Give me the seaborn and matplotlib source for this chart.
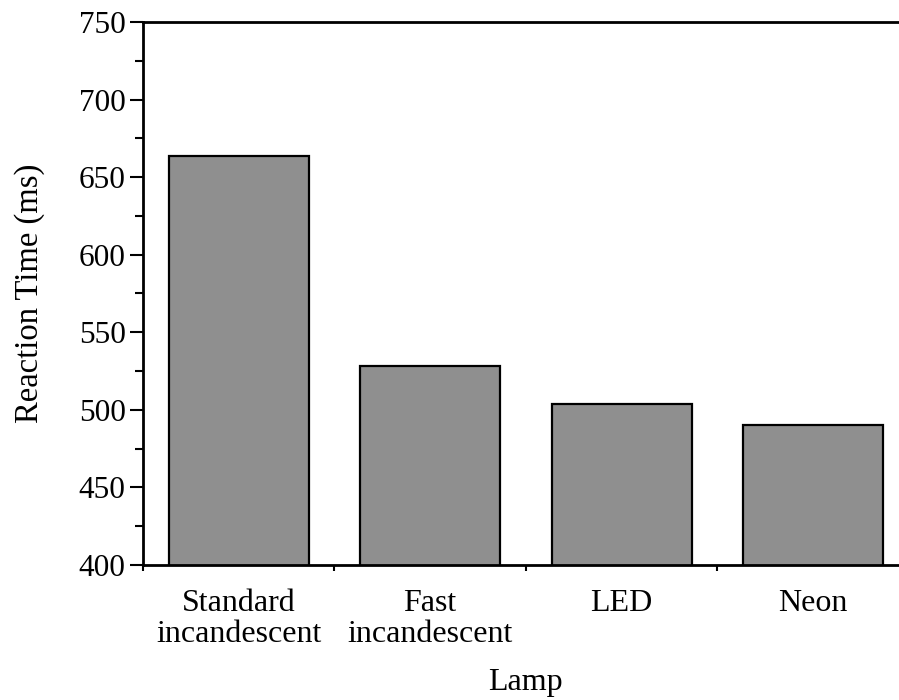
import pandas as pd
import seaborn as sns
import matplotlib.pyplot as plt
from matplotlib.ticker import MultipleLocator, FixedLocator

# data
lamps = ['Standard\nincandescent', 'Fast\nincandescent', 'LED', 'Neon']
reaction_ms = [663.5, 528, 504, 490]

df = pd.DataFrame({'Lamp': lamps, 'Reaction Time (ms)': reaction_ms})

sns.set_theme(style="ticks")
plt.rcParams['font.family'] = ['Liberation Serif', 'DejaVu Serif']

fig = plt.figure(figsize=(8.99, 7.0), dpi=100)
ax = fig.add_axes([0.159, 0.193, 0.852, 0.7756])

sns.barplot(
    data=df,
    x='Lamp',
    y='Reaction Time (ms)',
    order=lamps,
    color='#8f8f8f',
    saturation=1,
    width=0.73,
    edgecolor='black',
    linewidth=1.6,
    ax=ax,
)

ax.set_ylim(400, 750)
ax.set_xlim(-0.5, 3.5)
ax.yaxis.set_major_locator(MultipleLocator(50))
ax.yaxis.set_minor_locator(MultipleLocator(25))
# small x ticks sit between the categories
ax.xaxis.set_minor_locator(FixedLocator([-0.5, 0.5, 1.5, 2.5]))

ax.tick_params(axis='y', which='major', direction='out', length=9.5, width=1.5,
               labelsize=22.5, pad=3, color='black', labelcolor='black')
ax.tick_params(axis='y', which='minor', direction='out', length=5.5, width=1.5,
               color='black', left=True)
ax.tick_params(axis='x', which='major', length=0, labelsize=23, pad=17,
               labelcolor='black')
ax.tick_params(axis='x', which='minor', direction='out', length=4, width=1.5,
               color='black', bottom=True)

for side in ['left', 'bottom', 'top', 'right']:
    ax.spines[side].set_linewidth(2)
    ax.spines[side].set_color('black')

ax.set_ylabel('Reaction Time (ms)', fontsize=23.5, labelpad=24, color='black')
ax.set_xlabel('Lamp', fontsize=23, labelpad=14, color='black')
for lab in ax.get_xticklabels():
    lab.set_linespacing(1.1)

fig.savefig('out.png', dpi=100)
